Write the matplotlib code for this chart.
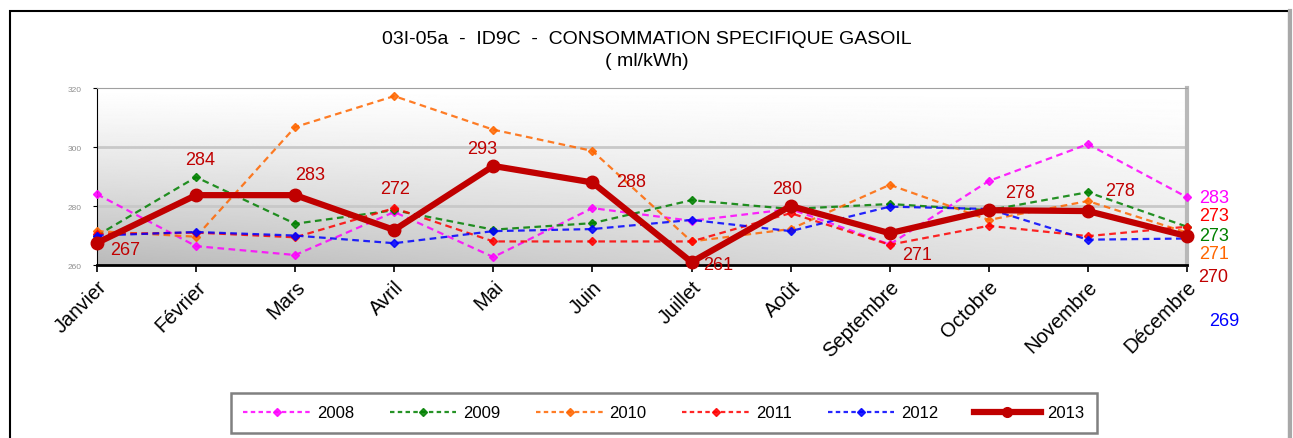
import numpy as np
import matplotlib
matplotlib.use("Agg")
import matplotlib.pyplot as plt
from matplotlib.patches import Rectangle
from matplotlib.lines import Line2D

mois = ["Janvier", "Février", "Mars", "Avril", "Mai", "Juin", "Juillet",
        "Août", "Septembre", "Octobre", "Novembre", "Décembre"]

v2008 = [284, 266.4, 263.4, 278, 262.7, 279.3, 275, 279, 267, 288.5, 301, 283]
v2009 = [270, 289.8, 274, 278.6, 272, 274.2, 282, 279, 280.7, 278.6, 284.7, 273]
v2010 = [271.5, 269.6, 306.8, 317.3, 305.9, 298.7, 268, 272.2, 287.2, 275.3, 281.7, 271]
v2011 = [270.5, 271, 269.4, 279.3, 268, 268, 268, 277.6, 266.9, 273.3, 269.8, 273]
v2012 = [270, 271.2, 270, 267.4, 271.5, 272.2, 275.3, 271.5, 279.8, 279, 268.6, 269]
v2013 = [267.5, 283.7, 283.7, 271.9, 293.6, 288, 261, 280, 270.8, 278.6, 278.3, 269.8]
labels_2013 = ["267", "284", "283", "272", "293", "288", "261", "280", "271", "278", "278", "270"]

series = [
    ("2008", v2008, "#ff00ff"),
    ("2009", v2009, "#008000"),
    ("2010", v2010, "#ff6600"),
    ("2011", v2011, "#ff0000"),
    ("2012", v2012, "#0000ff"),
]
# decalage (pixels) des etiquettes de decembre
decal_fin = [(12, 0), (12, -9), (12, -21), (12, 11), (22, -82)]

plt.rcParams["font.family"] = ["Liberation Sans", "DejaVu Sans"]

fig = plt.figure(figsize=(12.93, 4.39), dpi=100)
ax = fig.add_axes([0.075, 0.394, 0.843, 0.403])

# fond en degrade (blanc en haut, gris en bas)
yy = np.linspace(0, 1, 200)[:, None]
xx = np.linspace(0, 1, 300)[None, :]
fond = 1 - (0.27 - 0.17 * xx) * yy ** 1.2
ax.imshow(fond, cmap="gray", vmin=0, vmax=1, extent=[0, 11, 260, 320],
          aspect="auto", origin="upper", zorder=0)

x = np.arange(len(mois))
for (nom, vals, coul), d in zip(series, decal_fin):
    ax.plot(x, vals, color=coul, lw=1.6, ls=(0, (3, 2)), marker="D",
            ms=4.5, alpha=0.85, clip_on=False, zorder=3, label=nom)
    ax.annotate(f"{round(vals[-1])}", (11, vals[-1]), color=coul, fontsize=13,
                textcoords="offset pixels", xytext=d, va="center",
                annotation_clip=False)

ax.plot(x, v2013, color="#c00000", lw=4.5, marker="o", ms=9,
        clip_on=False, zorder=5, label="2013")

decal = [(28, -7), (4, 36), (15, 21), (1, 41), (-11, 17), (39, 1),
         (27, -2), (-3, 18), (27, -21), (31, 18), (32, 21), (26, -40)]
for i, (t, d) in enumerate(zip(labels_2013, decal)):
    ax.annotate(t, (i, v2013[i]), textcoords="offset pixels", xytext=d,
                ha="center", va="center", color="#c00000", fontsize=13,
                annotation_clip=False, zorder=6)

ax.set_xlim(0, 11)
ax.set_ylim(260, 320)
ax.set_yticks([260, 280, 300, 320])
ax.tick_params(axis="y", labelsize=6, labelcolor="#909090", length=3, pad=8)
ax.set_xticks(x)
ax.set_xticklabels(mois, rotation=45, ha="right", rotation_mode="anchor", fontsize=14.5)
ax.tick_params(axis="x", length=5, width=1.2)
for yv in [280, 300]:
    ax.axhline(yv, color="#c8c8c8", lw=2, zorder=1)
ax.spines["left"].set_color("black")
ax.spines["bottom"].set_linewidth(2)
ax.spines["top"].set_color("#a0a0a0")
ax.spines["right"].set_color("#b8b8b8")
ax.spines["right"].set_linewidth(3)

fig.text(0.5, 0.91, "03I-05a  -  ID9C  -  CONSOMMATION SPECIFIQUE GASOIL",
         ha="center", va="center", fontsize=14)
fig.text(0.5, 0.86, "( ml/kWh)", ha="center", va="center", fontsize=14)

handles = [Line2D([], [], color=c, lw=1.6, ls=(0, (2, 1.5)), marker="D", ms=4.5, alpha=0.85)
           for _, _, c in series]
handles.append(Line2D([], [], color="#c00000", lw=4.5, marker="o", ms=7))
leg = fig.legend(handles, [s[0] for s in series] + ["2013"], ncol=6,
                 loc="center", bbox_to_anchor=(0.5135, 0.057), fontsize=12,
                 frameon=True, fancybox=False, handlelength=4.0, columnspacing=2.15,
                 handletextpad=0.4, borderpad=0.75)
leg.get_frame().set_edgecolor("#606060")
leg.get_frame().set_linewidth(1.8)

# cadre exterieur
fig.patches.append(Rectangle((10 / 1293, -0.1), 1279 / 1293, 1.073,
                             transform=fig.transFigure, fill=False,
                             edgecolor="black", lw=1.5))
fig.add_artist(Line2D([1290 / 1293, 1290 / 1293], [0, 0.973], color="#a8a8a8",
                      lw=3, transform=fig.transFigure))

fig.savefig("out.png", dpi=100)
